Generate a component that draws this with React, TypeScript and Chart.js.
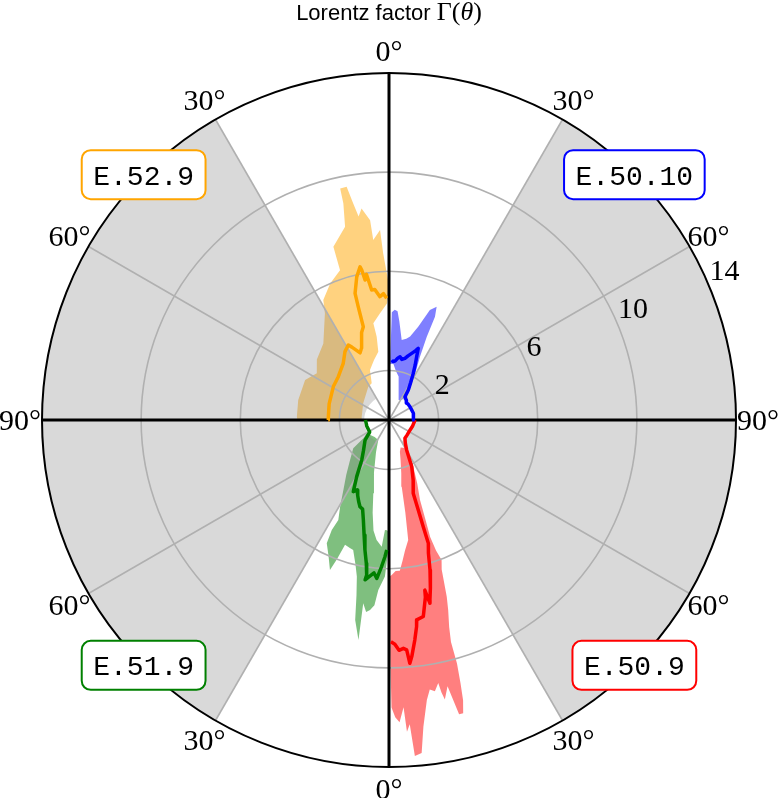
import React, { useEffect, useRef } from "react";
import { Chart, registerables } from "chart.js";

Chart.register(...registerables);

// ---------------- data ----------------
const radialTicks = [2, 6, 10, 14];
const radialMax = 14;
const radialLabelAngle = 67.5;
const gammaFloor = 1;
const angleGrid = [0, 30, 60, 90, 120, 150, 180, 210, 240, 270, 300, 330];
const angleLabels = ["0°", "30°", "60°", "90°", "60°", "30°", "0°", "30°", "60°", "90°", "60°", "30°"];
const shadedSectors = [
  [30, 150],
  [210, 330],
];

const runNames = ["E.50.10", "E.50.9", "E.51.9", "E.52.9"];
const runColors = ["#0000ff", "#ff0000", "#008000", "#ffa500"];
const runBandColors = ["rgba(0,0,255,0.5)", "rgba(255,0,0,0.5)", "rgba(0,128,0,0.5)", "rgba(255,165,0,0.5)"];
const runSignX = [1, 1, -1, -1];
const runSignY = [1, -1, -1, 1];

// E.50.10 (blue)
const blueLineTheta = [2.6, 4, 6, 8, 9.9, 12, 14.5, 16.5, 18.8, 21, 22.2, 23.6, 25.5, 27.5, 30, 32.8, 34.5, 37, 41.5, 45.5, 50, 57.7, 66, 74.6, 82, 90];
const blueLineGamma = [2.42, 2.36, 2.4, 2.52, 2.59, 2.5, 2.57, 2.7, 2.84, 3.0, 3.12, 2.79, 2.45, 2.12, 1.75, 1.44, 1.14, 1.1, 1.06, 0.98, 1.0, 1.0, 1.0, 1.02, 1.0, 0.98];
const blueBandTheta = [1.0, 1.5, 3, 4.5, 6, 9, 12, 14.2, 17.4, 20.4, 22.8, 24, 24.4, 26.1, 28.5, 31.7, 35.9, 32.4, 25, 18, 12.1, 8, 4.3, 1.0];
const blueBandGamma = [2.25, 4.35, 4.45, 4.4, 4.0, 3.27, 3.35, 3.47, 3.94, 4.73, 4.96, 4.56, 3.69, 2.84, 2.3, 1.74, 1.33, 0.96, 0.89, 1.3, 1.79, 2.0, 2.29, 2.25];

// E.50.9 (red)
const redLineTheta = [90, 75, 64, 50, 41, 35, 30.5, 26, 22, 18.3, 18, 17.8, 17.7, 16.5, 15.3, 13.8, 12.8, 12.6, 11.9, 11.6, 9.9, 7.9, 7.6, 6.7, 5.5, 4.9, 4.4, 3.6, 2.5, 1.5, 0.5];
const redLineGamma = [1.05, 0.98, 0.94, 0.95, 0.98, 1.15, 1.4, 2.09, 2.6, 3.11, 3.82, 4.52, 5.22, 5.6, 6.27, 7.0, 7.45, 7.58, 7.01, 7.3, 8.05, 8.14, 8.41, 8.93, 9.59, 9.85, 9.3, 9.23, 9.3, 9.05, 8.95];
const redBandTheta = [30, 27.5, 24, 21.2, 20.2, 19.4, 19.8, 20.6, 19.4, 18.1, 17.3, 16.2, 15.6, 15.6, 15.2, 14.8, 14.2, 13.4, 12.4, 11.3, 10.9, 10.6, 9.6, 8.6, 7.7, 6.4, 5.6, 4.4, 3.9, 3.3, 2.9, 2.0, 1.2, 0.5, 0.3, 0.3, 1.0, 2.5, 4.1, 5.5, 7.0, 9.1, 10.0, 10.8, 13, 16, 19, 23];
const redBandGamma = [1.3, 2.12, 2.8, 3.46, 4.2, 5.0, 5.6, 6.03, 6.4, 7.5, 8.03, 8.7, 9.3, 10.2, 11.0, 11.7, 12.2, 12.2, 11.0, 11.5, 11.2, 10.8, 11.1, 11.0, 11.4, 12.45, 13.5, 13.6, 12.3, 12.6, 11.6, 12.2, 12.0, 11.6, 9.5, 6.3, 6.25, 6.1, 6.1, 5.7, 5.3, 4.9, 3.8, 2.74, 2.2, 1.7, 1.35, 1.2];

// E.51.9 (green)
const greenLineTheta = [90, 75, 58, 50, 40, 34.3, 29.7, 26.5, 24.5, 22.5, 20.5, 18.5, 16.5, 14.4, 12.2, 10.5, 9.0, 8.2, 8.5, 7.0, 5.6, 4.4, 2.9, 1.7, 1.0];
const greenLineGamma = [0.95, 0.93, 0.92, 1.26, 1.6, 1.95, 2.63, 3.23, 3.1, 3.3, 3.5, 3.69, 3.75, 4.16, 4.75, 5.33, 5.85, 6.32, 6.52, 6.35, 6.2, 6.41, 5.92, 5.52, 5.24];
const greenBandTheta = [60, 54.5, 51.6, 44.3, 38, 33.1, 29.5, 26.9, 27.5, 26.8, 24.0, 21.5, 20.5, 19.4, 17.0, 15.4, 13.0, 11.6, 10.5, 9.6, 7.9, 8.0, 6.8, 5.7, 4.5, 3.6, 1.5, 0.3, 0.3, 1.0, 2.1, 3.3, 5.9, 8.0, 10.0, 12.1, 16.0, 22.0, 28.1, 40, 50];
const greenBandGamma = [1.0, 1.27, 1.84, 2.25, 2.8, 3.37, 4.0, 4.52, 5.0, 5.57, 6.0, 6.5, 6.0, 5.34, 5.4, 5.44, 6.0, 6.45, 7.2, 8.18, 8.96, 7.47, 7.8, 7.7, 7.5, 6.87, 6.32, 5.24, 4.5, 4.45, 4.44, 5.12, 4.87, 4.5, 3.8, 3.02, 2.2, 1.4, 0.92, 0.9, 0.95];

// E.52.9 (orange)
const orangeLineTheta = [90, 87, 75, 65, 59, 49.5, 38.9, 32.8, 28.5, 27, 25, 23.3, 21, 19.2, 17.5, 15.4, 15.2, 15.0, 12.7, 10.7, 10.3, 9.7, 8.8, 7.6, 6.2, 4.2, 2.5, 1.1];
const orangeLineGamma = [2.45, 2.45, 2.5, 2.55, 2.62, 2.69, 2.94, 3.28, 3.44, 3.3, 3.1, 2.95, 3.1, 3.34, 3.7, 3.9, 4.73, 5.29, 5.92, 6.29, 6.15, 5.73, 5.95, 5.29, 5.3, 4.99, 5.1, 4.91];
const orangeBandTheta = [89.5, 83, 57, 31.9, 25.2, 20.8, 14, 8.9, 8.4, 9.2, 4.8, 1.0, 0.3, 0.3, 1.0, 2.0, 2.7, 5.0, 5.4, 7.4, 8.5, 9.4, 10.3, 11.9, 11.9, 12.8, 17.8, 18.1, 23.3, 28.7, 31, 40.6, 50, 57.1, 64.5, 77.6, 88, 89.5];
const orangeBandGamma = [1.1, 1.11, 1.24, 1.58, 1.64, 2.16, 2.5, 2.79, 3.4, 3.95, 4.32, 4.7, 5.0, 5.6, 6.0, 6.73, 7.67, 7.29, 8.1, 8.6, 8.3, 8.86, 9.56, 9.55, 8.93, 8.0, 7.34, 6.36, 6.0, 5.52, 5.02, 4.07, 3.8, 3.47, 3.75, 3.75, 3.72, 3.7];

const lineThetas = [blueLineTheta, redLineTheta, greenLineTheta, orangeLineTheta];
const lineGammas = [blueLineGamma, redLineGamma, greenLineGamma, orangeLineGamma];
const bandThetas = [blueBandTheta, redBandTheta, greenBandTheta, orangeBandTheta];
const bandGammas = [blueBandGamma, redBandGamma, greenBandGamma, orangeBandGamma];

// ---------------- helpers ----------------
const DEG = Math.PI / 180;
function toPoints(th: number[], g: number[], sx: number, sy: number) {
  return th.map((t, i) => ({ x: sx * g[i] * Math.sin(t * DEG), y: sy * g[i] * Math.cos(t * DEG) }));
}

function geom(chart: any) {
  const xs = chart.scales.x;
  const ys = chart.scales.y;
  const cx = xs.getPixelForValue(0);
  const cy = ys.getPixelForValue(0);
  const pr = (r: number) => xs.getPixelForValue(r) - cx;
  return { xs, ys, cx, cy, pr };
}

function drawOverlay(chart: any) {
  const { ctx } = chart;
  const { cx, cy, pr } = geom(chart);
  const R = pr(radialMax);
  ctx.save();
  ctx.fillStyle = "rgba(128,128,128,0.3)";
  for (const [a0, a1] of shadedSectors) {
    const s = (a0 - 90) * DEG;
    const e = (a1 - 90) * DEG;
    ctx.beginPath();
    ctx.arc(cx, cy, R, s, e, false);
    ctx.arc(cx, cy, pr(gammaFloor), e, s, true);
    ctx.closePath();
    ctx.fill();
  }
  ctx.strokeStyle = "#b0b0b0";
  ctx.lineWidth = 1.6;
  for (const t of radialTicks) {
    if (t >= radialMax) continue;
    ctx.beginPath();
    ctx.arc(cx, cy, pr(t), 0, Math.PI * 2);
    ctx.stroke();
  }
  for (const a of angleGrid) {
    ctx.beginPath();
    ctx.moveTo(cx, cy);
    ctx.lineTo(cx + R * Math.sin(a * DEG), cy - R * Math.cos(a * DEG));
    ctx.stroke();
  }
  ctx.strokeStyle = "#000";
  ctx.lineWidth = 3;
  ctx.beginPath();
  ctx.moveTo(cx, cy - R);
  ctx.lineTo(cx, cy + R);
  ctx.moveTo(cx - R, cy);
  ctx.lineTo(cx + R, cy);
  ctx.stroke();
  ctx.restore();
}

function drawOuter(chart: any) {
  const { ctx } = chart;
  const { cx, cy, pr } = geom(chart);
  ctx.save();
  ctx.strokeStyle = "#000";
  ctx.lineWidth = 2;
  ctx.beginPath();
  ctx.arc(cx, cy, pr(radialMax), 0, Math.PI * 2);
  ctx.stroke();
  ctx.restore();
}

function roundRectPath(ctx: CanvasRenderingContext2D, x: number, y: number, w: number, h: number, r: number) {
  ctx.beginPath();
  ctx.moveTo(x + r, y);
  ctx.lineTo(x + w - r, y);
  ctx.arcTo(x + w, y, x + w, y + r, r);
  ctx.lineTo(x + w, y + h - r);
  ctx.arcTo(x + w, y + h, x + w - r, y + h, r);
  ctx.lineTo(x + r, y + h);
  ctx.arcTo(x, y + h, x, y + h - r, r);
  ctx.lineTo(x, y + r);
  ctx.arcTo(x, y, x + r, y, r);
  ctx.closePath();
}

function drawTexts(chart: any) {
  const { ctx } = chart;
  const { xs, ys, cx, cy, pr } = geom(chart);
  const R = pr(radialMax);
  ctx.save();
  ctx.fillStyle = "#000";
  ctx.font = '30px "Liberation Serif"';
  ctx.textAlign = "center";
  ctx.textBaseline = "alphabetic";
  angleGrid.forEach((a, i) => {
    const d = R + 22;
    const x = cx + d * Math.sin(a * DEG);
    const y = cy - d * Math.cos(a * DEG);
    ctx.fillText(angleLabels[i], x, y + 10);
  });
  ctx.textAlign = "left";
  radialTicks.forEach((t) => {
    const d = pr(t);
    const x = cx + d * Math.sin(radialLabelAngle * DEG);
    const y = cy - d * Math.cos(radialLabelAngle * DEG);
    ctx.fillText(String(t), x, y - 7);
  });
  const parts = [
    { t: "Lorentz factor ", f: '22px "Liberation Sans"' },
    { t: "Γ(", f: '26px "Liberation Serif"' },
    { t: "θ", f: 'italic 26px "Liberation Serif"' },
    { t: ")", f: '26px "Liberation Serif"' },
  ];
  let total = 0;
  const widths = parts.map((p) => {
    ctx.font = p.f;
    const w = ctx.measureText(p.t).width;
    total += w;
    return w;
  });
  let tx = cx - total / 2;
  parts.forEach((p, i) => {
    ctx.font = p.f;
    ctx.fillText(p.t, tx, 20);
    tx += widths[i];
  });
  const diag = radialMax * Math.SQRT1_2;
  ctx.font = '28px "Liberation Mono"';
  runNames.forEach((name, i) => {
    const bx = xs.getPixelForValue(runSignX[i] * diag);
    const by = ys.getPixelForValue(runSignY[i] * diag);
    const w = ctx.measureText(name).width + 23;
    const h = 49;
    roundRectPath(ctx, bx - w / 2, by - h / 2, w, h, 9);
    ctx.fillStyle = "#fff";
    ctx.fill();
    ctx.strokeStyle = runColors[i];
    ctx.lineWidth = 2;
    ctx.stroke();
    ctx.fillStyle = "#000";
    ctx.textAlign = "center";
    ctx.fillText(name, bx, by + 10);
  });
  ctx.restore();
}

const polarPlugin = {
  id: "polarDecor",
  beforeDatasetsDraw(chart: any) {
    chart.$overlayDone = false;
  },
  beforeDatasetDraw(chart: any, args: any) {
    const ds = chart.data.datasets[args.index];
    if (ds.kind === "line" && !chart.$overlayDone) {
      drawOverlay(chart);
      chart.$overlayDone = true;
    }
  },
  afterDatasetsDraw(chart: any) {
    if (!chart.$overlayDone) drawOverlay(chart);
    drawOuter(chart);
  },
  afterDraw(chart: any) {
    drawTexts(chart);
  },
};

export default function App() {
  const ref = useRef<HTMLCanvasElement>(null);
  useEffect(() => {
    const datasets: any[] = [];
    for (let i = 0; i < runNames.length; i++) {
      datasets.push({
        kind: "band",
        label: runNames[i] + " band",
        data: toPoints(bandThetas[i], bandGammas[i], runSignX[i], runSignY[i]),
        fill: "shape",
        backgroundColor: runBandColors[i],
        borderColor: "rgba(0,0,0,0)",
        borderWidth: 0,
        pointRadius: 0,
        order: 2,
      });
    }
    for (let i = 0; i < runNames.length; i++) {
      datasets.push({
        kind: "line",
        label: runNames[i],
        data: toPoints(lineThetas[i], lineGammas[i], runSignX[i], runSignY[i]),
        fill: false,
        borderColor: runColors[i],
        borderWidth: 3.5,
        borderJoinStyle: "round",
        pointRadius: 0,
        order: 1,
      });
    }
    const chart = new Chart(ref.current as HTMLCanvasElement, {
      type: "line",
      data: { datasets },
      options: {
        animation: false,
        responsive: false,
        layout: { padding: { left: 42, right: 44, top: 73, bottom: 31 } },
        scales: {
          x: { type: "linear", min: -radialMax, max: radialMax, display: false },
          y: { type: "linear", min: -radialMax, max: radialMax, display: false },
        },
        elements: { line: { tension: 0 }, point: { radius: 0 } },
        plugins: { legend: { display: false }, tooltip: { enabled: false }, title: { display: false } },
      } as any,
      plugins: [polarPlugin as any],
    });
    return () => chart.destroy();
  }, []);
  return (
    <div style={{ position: "absolute", left: 0, top: 0, width: 780, height: 798, background: "#fff" }}>
      <canvas ref={ref} width={780} height={798} style={{ display: "block", width: 780, height: 798 }} />
    </div>
  );
}
